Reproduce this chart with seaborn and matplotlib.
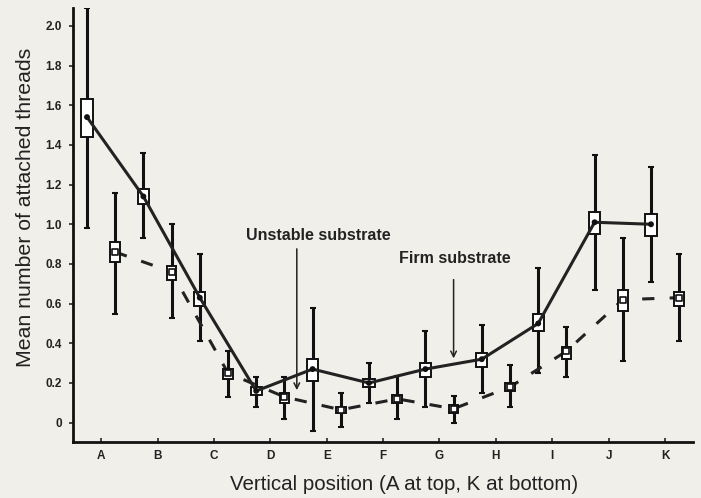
import matplotlib
matplotlib.use("Agg")
import matplotlib.pyplot as plt
from matplotlib.patches import Rectangle
from matplotlib.ticker import FuncFormatter
import seaborn as sns
import numpy as np
import pandas as pd

# positions along the rope, A at top, K at bottom
positions = ["A", "B", "C", "D", "E", "F", "G", "H", "I", "J", "K"]

# unstable substrate (solid line)
unstable_mean = [1.54, 1.14, 0.63, 0.16, 0.27, 0.20, 0.27, 0.32, 0.50, 1.01, 1.00]
unstable_box_hi = [1.63, 1.18, 0.66, 0.18, 0.32, 0.22, 0.30, 0.35, 0.55, 1.06, 1.05]
unstable_box_lo = [1.44, 1.10, 0.59, 0.14, 0.21, 0.18, 0.23, 0.28, 0.46, 0.95, 0.94]
unstable_hi = [2.09, 1.36, 0.85, 0.23, 0.58, 0.30, 0.46, 0.49, 0.78, 1.35, 1.29]
unstable_lo = [0.98, 0.93, 0.41, 0.08, -0.04, 0.10, 0.08, 0.15, 0.25, 0.67, 0.71]

# firm substrate (dashed line)
firm_mean = [0.86, 0.76, 0.25, 0.13, 0.065, 0.12, 0.07, 0.18, 0.36, 0.62, 0.63]
firm_box_hi = [0.91, 0.79, 0.27, 0.15, 0.08, 0.14, 0.09, 0.20, 0.38, 0.67, 0.66]
firm_box_lo = [0.81, 0.72, 0.22, 0.10, 0.05, 0.10, 0.05, 0.16, 0.32, 0.565, 0.59]
firm_hi = [1.16, 1.00, 0.36, 0.23, 0.15, 0.235, 0.135, 0.29, 0.48, 0.93, 0.85]
firm_lo = [0.55, 0.53, 0.13, 0.02, -0.02, 0.02, 0.00, 0.08, 0.23, 0.31, 0.41]

bg = "#f0efe9"
sns.set_style("ticks")
plt.rcParams["font.family"] = ["Liberation Sans", "DejaVu Sans"]

fig = plt.figure(figsize=(7.01, 4.98), dpi=100, facecolor=bg)
ax = fig.add_axes([0.104, 0.113, 0.885, 0.871], facecolor=bg)

idx = np.arange(len(positions))
df_u = pd.DataFrame({"x": idx - 0.25, "y": unstable_mean})
df_f = pd.DataFrame({"x": idx + 0.25, "y": firm_mean})


def draw_series(x, mean, blo, bhi, lo, hi, box_w):
    """whiskers plus open rectangles"""
    mean = np.array(mean)
    ax.errorbar(x, mean, yerr=[mean - np.array(lo), np.array(hi) - mean],
                fmt="none", ecolor="#111111", elinewidth=2.2, capsize=2, capthick=1.5, zorder=2)
    for xi, b0, b1 in zip(x, blo, bhi):
        ax.add_patch(Rectangle((xi - box_w / 2, b0), box_w, b1 - b0, facecolor="white",
                               edgecolor="#111111", linewidth=1.4, zorder=4))


draw_series(df_u["x"], unstable_mean, unstable_box_lo, unstable_box_hi, unstable_lo, unstable_hi, 0.2)
draw_series(df_f["x"], firm_mean, firm_box_lo, firm_box_hi, firm_lo, firm_hi, 0.17)

sns.lineplot(data=df_u, x="x", y="y", ax=ax, color="#222222", linewidth=2.2, zorder=5)
sns.lineplot(data=df_f, x="x", y="y", ax=ax, color="#222222", linewidth=2.2,
             dashes=False, linestyle=(0, (4, 5)), zorder=3)
sns.scatterplot(data=df_u, x="x", y="y", ax=ax, color="#111111", s=18, zorder=6, edgecolor="none")
sns.scatterplot(data=df_f, x="x", y="y", ax=ax, marker="s", s=22, facecolor="white",
                edgecolor="#111111", linewidth=1.2, zorder=6)

# substrate arrows
ax.annotate("", xy=(3.47, 0.15), xytext=(3.47, 0.89),
            arrowprops=dict(arrowstyle="->", color="#222222", lw=1.1))
ax.text(3.85, 0.92, "Unstable substrate", ha="center", va="baseline",
        fontsize=11.5, fontweight="bold", color="#222222")
ax.annotate("", xy=(6.25, 0.31), xytext=(6.25, 0.735),
            arrowprops=dict(arrowstyle="->", color="#222222", lw=1.1))
ax.text(6.27, 0.805, "Firm substrate", ha="center", va="baseline",
        fontsize=11.5, fontweight="bold", color="#222222")

ax.set_xlim(-0.5, 10.5)
ax.set_ylim(-0.096, 2.09)
ax.set_xticks(idx)
ax.set_xticklabels(positions)
ax.set_yticks(np.arange(0, 2.01, 0.2))
ax.yaxis.set_major_formatter(FuncFormatter(lambda v, p: "0" if abs(v) < 1e-9 else f"{v:.1f}"))
ax.tick_params(axis="x", direction="in", length=3, width=1.2, labelsize=8.5, pad=6)
ax.tick_params(axis="y", direction="out", length=3, width=1.2, labelsize=8.5, pad=5)
for lab in ax.get_xticklabels() + ax.get_yticklabels():
    lab.set_fontweight("bold")
    lab.set_color("#222222")

ax.set_xlabel("Vertical position (A at top, K at bottom)", fontsize=14.8, color="#222222")
ax.set_ylabel("Mean number of attached threads", fontsize=15.3, color="#222222")
ax.xaxis.set_label_coords(0.534, -0.077)
ax.yaxis.set_label_coords(-0.061, 0.54)

sns.despine(ax=ax)
for sp in ["left", "bottom"]:
    ax.spines[sp].set_linewidth(2)
    ax.spines[sp].set_color("#111111")

fig.savefig("out.png", dpi=100, facecolor=bg)
